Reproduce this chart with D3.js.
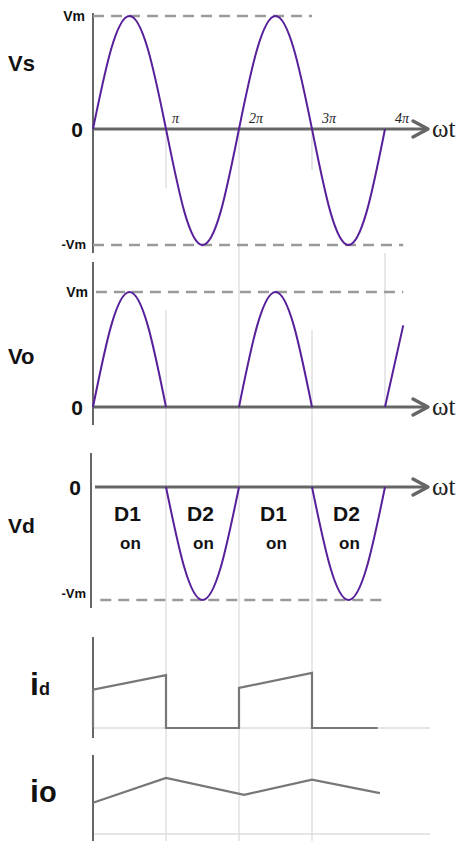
<!DOCTYPE html>
<html>
<head>
<meta charset="utf-8">
<script src="https://cdn.jsdelivr.net/npm/d3@7"></script>
<style>
  html, body { margin: 0; padding: 0; background: #fff; }
  svg { display: block; }
</style>
</head>
<body>
<svg id="chart" width="462" height="841"></svg>
<script>
// Phase in units of π, sampled every π/4
const phase = [0, 0.25, 0.5, 0.75, 1, 1.25, 1.5, 1.75, 2, 2.25, 2.5, 2.75, 3, 3.25, 3.5, 3.75, 4, 4.25];
// Source voltage (per unit of Vm)
const vs = [0, 0.71, 1, 0.71, 0, -0.71, -1, -0.71, 0, 0.71, 1, 0.71, 0, -0.71, -1, -0.71, 0, 0.71];
// Output voltage: conducting half-cycles only
const vo = [0, 0.71, 1, 0.71, 0, 0, 0, 0, 0, 0.71, 1, 0.71, 0, 0, 0, 0, 0, 0.71];
// Voltage across the diode
const vd = [0, 0, 0, 0, 0, -0.71, -1, -0.71, 0, 0, 0, 0, 0, -0.71, -1, -0.71, 0, 0];

// Diode current
const idPhase = [0, 0, 1, 1, 2, 2, 3, 3, 3.9];
const idVal   = [0, 0.48, 0.66, 0, 0, 0.5, 0.69, 0, 0];
// Load current
const ioPhase = [0, 1, 2.07, 3, 3.93];
const ioVal   = [0.39, 0.7, 0.49, 0.68, 0.51];

const piTicks = [1, 2, 3, 4];
const piLabels = ["π", "2π", "3π", "4π"];
const diodeLabels = [
  { at: 0.5, name: "D1" }, { at: 1.5, name: "D2" },
  { at: 2.5, name: "D1" }, { at: 3.5, name: "D2" }
];

const svg = d3.select("#chart");
const x = d3.scaleLinear().domain([0, 4]).range([93, 385]);

const yVs = d3.scaleLinear().domain([-1, 0, 1]).range([245, 129, 16]);
const yVo = d3.scaleLinear().domain([0, 1]).range([407, 292]);
const yVd = d3.scaleLinear().domain([-1, 0]).range([600, 487]);
const yId = d3.scaleLinear().domain([0, 1]).range([728, 648]);
const yIo = d3.scaleLinear().domain([0, 1]).range([834, 754]);

const PURPLE = "#57209a";
const AXIS = "#666";
const DASH = "#9a9a9a";
const GUIDE = "#dcdcdc";

// ---- faint vertical guides at multiples of π ----
const guides = [
  { k: 1, segs: [[129, 188], [310, 841]] },
  { k: 2, segs: [[129, 841]] },
  { k: 3, segs: [[129, 170], [330, 841]] },
  { k: 4, segs: [[253, 408]] }
];
guides.forEach(g => g.segs.forEach(s => {
  svg.append("line")
    .attr("x1", x(g.k)).attr("x2", x(g.k))
    .attr("y1", s[0]).attr("y2", s[1])
    .attr("stroke", GUIDE).attr("stroke-width", 1.3);
}));

// ---- helpers ----
function hAxisArrow(y0, x0) {
  const xe = 428;
  svg.append("line").attr("x1", x0).attr("x2", xe - 2).attr("y1", y0).attr("y2", y0)
    .attr("stroke", AXIS).attr("stroke-width", 3.2);
  svg.append("path")
    .attr("d", `M${xe - 15},${y0 - 8} L${xe},${y0} L${xe - 15},${y0 + 8}`)
    .attr("fill", "none").attr("stroke", AXIS).attr("stroke-width", 3.4)
    .attr("stroke-linecap", "round").attr("stroke-linejoin", "round");
  svg.append("text").attr("x", 432).attr("y", y0 + 8)
    .attr("font-family", "'Liberation Serif', 'DejaVu Serif', serif")
    .attr("font-size", 25).attr("fill", "#222").text("ωt");
}
function vAxis(xp, y1, y2) {
  svg.append("line").attr("x1", xp).attr("x2", xp).attr("y1", y1).attr("y2", y2)
    .attr("stroke", AXIS).attr("stroke-width", 2);
}
function dashed(y0, a, b) {
  svg.append("line").attr("x1", x(a)).attr("x2", x(b)).attr("y1", y0).attr("y2", y0)
    .attr("stroke", DASH).attr("stroke-width", 2.6).attr("stroke-dasharray", "11,7");
}
function label(txt, xp, yp, size, anchor) {
  svg.append("text").attr("x", xp).attr("y", yp)
    .attr("font-family", "'Liberation Sans', Arial, sans-serif")
    .attr("font-weight", "bold").attr("font-size", size)
    .attr("text-anchor", anchor || "start").attr("fill", "#111").text(txt);
}
function wave(values, yScale, from, to) {
  const pts = phase.map((p, i) => [p, values[i]]).filter(d => d[0] >= from - 1e-9 && d[0] <= to + 1e-9);
  svg.append("path").datum(pts)
    .attr("d", d3.line().x(d => x(d[0])).y(d => yScale(d[1])).curve(d3.curveNatural))
    .attr("fill", "none").attr("stroke", PURPLE).attr("stroke-width", 2);
}

// ---- Vs ----
vAxis(93, 13, 253);
dashed(yVs(1), 0, 3);
dashed(yVs(-1), 0, 4.25);
hAxisArrow(yVs(0), 93);
wave(vs, yVs, 0, 4);
piTicks.forEach((k, i) => {
  svg.append("text").attr("x", x(k) + (i === 0 ? 6 : 10)).attr("y", yVs(0) - 6)
    .attr("font-family", "'Liberation Serif', 'DejaVu Serif', serif")
    .attr("font-style", "italic").attr("font-size", 14).attr("fill", "#222")
    .text(piLabels[i]);
});
label("Vs", 8, 71, 22);
label("Vm", 85, yVs(1) + 5, 14, "end");
label("0", 83, yVs(0) + 8, 21, "end");
label("-Vm", 86, yVs(-1) + 4, 13, "end");

// ---- Vo ----
vAxis(93, 262, 425);
dashed(yVo(1), 0.04, 4.25);
hAxisArrow(yVo(0), 93);
wave(vo, yVo, 0, 1);
wave(vo, yVo, 2, 3);
wave(vo, yVo, 4, 4.25);
label("Vo", 8, 364, 22);
label("Vm", 88, yVo(1) + 5, 14, "end");
label("0", 83, yVo(0) + 8, 21, "end");

// ---- Vd ----
vAxis(91, 453, 608);
dashed(yVd(-1), 0.1, 4);
hAxisArrow(yVd(0), 95);
wave(vd, yVd, 1, 2);
wave(vd, yVd, 3, 4);
label("Vd", 8, 533, 21);
label("0", 81, yVd(0) + 8, 21, "end");
label("-Vm", 86, yVd(-1) - 2, 13, "end");
diodeLabels.forEach(d => {
  label(d.name, x(d.at) - 2, 521, 21, "middle");
  label("on", x(d.at) + 1, 549, 17, "middle");
});

// ---- id ----
svg.append("line").attr("x1", 93).attr("x2", 430).attr("y1", yId(0)).attr("y2", yId(0))
  .attr("stroke", GUIDE).attr("stroke-width", 1.5);
vAxis(93, 637, 738);
svg.append("path").datum(idPhase.map((p, i) => [p, idVal[i]]))
  .attr("d", d3.line().x(d => x(d[0])).y(d => yId(d[1])))
  .attr("fill", "none").attr("stroke", "#777").attr("stroke-width", 2.2);
svg.append("text").attr("x", 30).attr("y", 695)
  .attr("font-family", "'Liberation Sans', Arial, sans-serif").attr("font-weight", "bold")
  .attr("fill", "#111")
  .call(t => {
    t.append("tspan").attr("font-size", 32).text("i");
    t.append("tspan").attr("font-size", 18).text("d");
  });

// ---- io ----
svg.append("line").attr("x1", 93).attr("x2", 430).attr("y1", yIo(0)).attr("y2", yIo(0))
  .attr("stroke", GUIDE).attr("stroke-width", 1.5);
vAxis(93, 755, 841);
svg.append("path").datum(ioPhase.map((p, i) => [p, ioVal[i]]))
  .attr("d", d3.line().x(d => x(d[0])).y(d => yIo(d[1])))
  .attr("fill", "none").attr("stroke", "#777").attr("stroke-width", 2.2);
svg.append("text").attr("x", 30).attr("y", 802)
  .attr("font-family", "'Liberation Sans', Arial, sans-serif").attr("font-weight", "bold")
  .attr("fill", "#111")
  .call(t => {
    t.append("tspan").attr("font-size", 32).text("i");
    t.append("tspan").attr("font-size", 29).text("o");
  });
</script>
</body>
</html>
